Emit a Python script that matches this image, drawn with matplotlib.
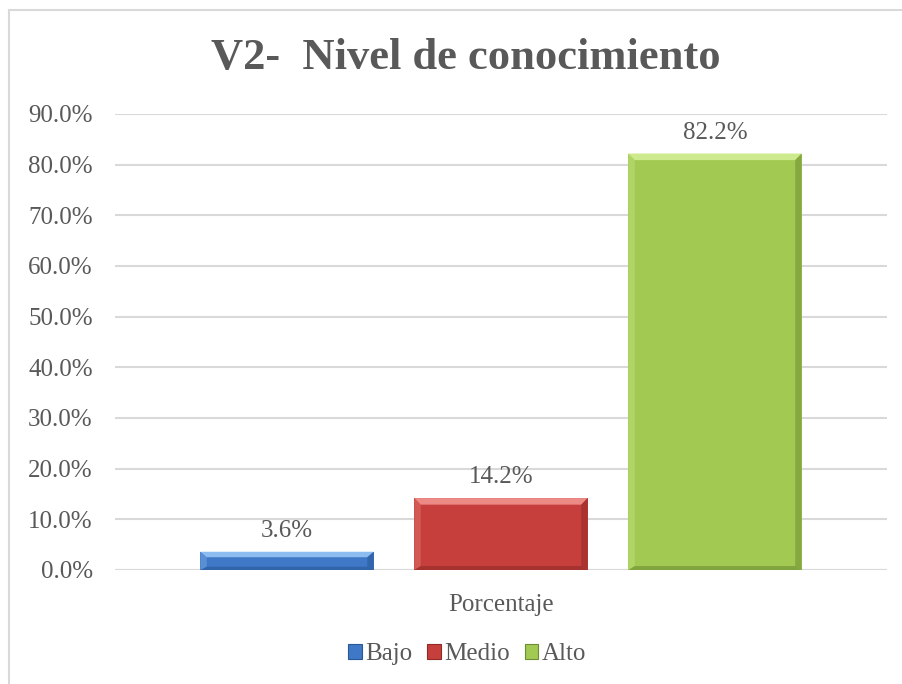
import matplotlib.pyplot as plt
from matplotlib.patches import Polygon, Rectangle
from matplotlib.ticker import FuncFormatter
import numpy as np

# datos
categorias = ['Bajo', 'Medio', 'Alto']
porcentajes = [3.6, 14.2, 82.2]
colores = ['#3f78c6', '#c63f3c', '#a2ca52']
claros = ['#8dbcf0', '#ec8a86', '#cdea8e']
oscuros = ['#2a5796', '#912a27', '#6e8c33']
ticks_y = [0, 10, 20, 30, 40, 50, 60, 70, 80, 90]

gris = '#595959'
plt.rcParams['font.family'] = ['Liberation Serif', 'DejaVu Serif']

fig = plt.figure(figsize=(9.02, 6.84), dpi=100)
ax = fig.add_axes([115 / 902, 1 - 570 / 684, 772 / 902, 456 / 684])

# marco del grafico (recortado a la derecha y abajo como en la captura)
fig.patches.append(Rectangle((9 / 902, -0.1), 1.2, 1 - 10 / 684 + 0.1,
                             transform=fig.transFigure, fill=False,
                             edgecolor='#d9d9d9', linewidth=1.5))

x = np.arange(len(categorias))
ancho = 0.81
barras = ax.bar(x, porcentajes, width=ancho, color=colores, zorder=3,
                edgecolor='none')

# efecto biselado al estilo Excel
bx = 0.03
by = 1.3
for i, b in enumerate(barras):
    x0, x1 = b.get_x(), b.get_x() + b.get_width()
    y1 = b.get_height()
    bv = min(by, y1 * 0.3)
    ax.add_patch(Polygon([(x0, y1), (x1, y1), (x1 - bx, y1 - bv), (x0 + bx, y1 - bv)],
                         closed=True, color=claros[i], zorder=4, lw=0))
    ax.add_patch(Polygon([(x1, y1), (x1, 0), (x1 - bx, bv * 0.6), (x1 - bx, y1 - bv)],
                         closed=True, color=oscuros[i], zorder=4, lw=0, alpha=0.55))
    ax.add_patch(Polygon([(x0, y1), (x0, 0), (x0 + bx, bv * 0.6), (x0 + bx, y1 - bv)],
                         closed=True, color=claros[i], zorder=4, lw=0, alpha=0.35))
    ax.add_patch(Polygon([(x0, 0), (x1, 0), (x1 - bx, bv * 0.6), (x0 + bx, bv * 0.6)],
                         closed=True, color=oscuros[i], zorder=4, lw=0, alpha=0.6))
    ax.annotate(f'{porcentajes[i]:.1f}%', (b.get_x() + b.get_width() / 2, y1),
                xytext=(0, 7), textcoords='offset points', ha='center', va='bottom',
                fontsize=18, color=gris)

ax.set_xlim(-0.804, 2.804)
ax.set_ylim(0, 90)
ax.set_yticks(ticks_y)
ax.yaxis.set_major_formatter(FuncFormatter(lambda v, p: f'{v:.1f}%'))
ax.tick_params(axis='y', length=0, labelsize=18, labelcolor=gris, pad=16)
ax.set_xticks([])
ax.grid(axis='y', color='#d9d9d9', linewidth=1.5, zorder=0)
for s in ax.spines.values():
    s.set_visible(False)
ax.axhline(0, color='#d9d9d9', linewidth=1.5, zorder=1)

ax.set_xlabel('Porcentaje', fontsize=18, color=gris, labelpad=17)
fig.text(466 / 902, 1 - 58 / 684, 'V2-  Nivel de conocimiento', ha='center',
         va='center', fontsize=32, fontweight='bold', color=gris)

manijas = [Rectangle((0, 0), 1, 1, facecolor=c, edgecolor=o, lw=0.8)
           for c, o in zip(colores, oscuros)]
fig.legend(manijas, categorias, loc='center', bbox_to_anchor=(467 / 902, 1 - 654 / 684),
           ncol=3, frameon=False, fontsize=18, labelcolor=gris, handlelength=0.55,
           handleheight=0.55, handletextpad=0.12, columnspacing=0.6)

fig.savefig('out.png', dpi=100)
